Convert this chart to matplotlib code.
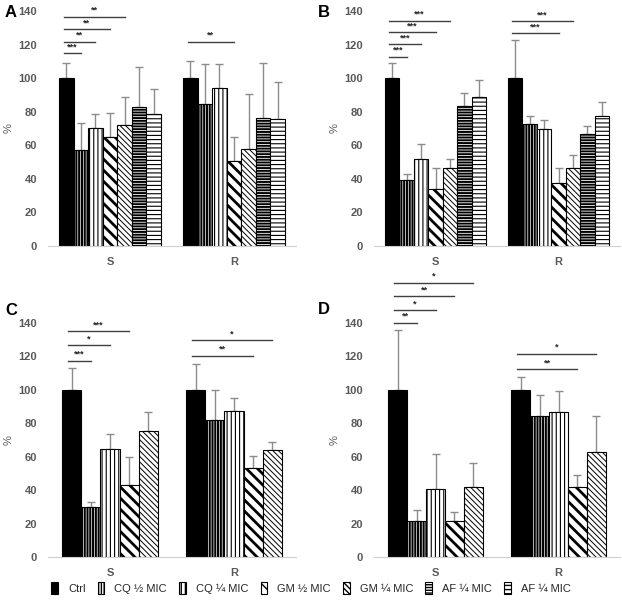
import numpy as np
import matplotlib.pyplot as plt
from matplotlib.patches import Patch

plt.rcParams['font.family'] = ['Liberation Sans', 'DejaVu Sans']

groups = ['S', 'R']
names = ['Ctrl', 'CQ ½ MIC', 'CQ ¼ MIC', 'GM ½ MIC', 'GM ¼ MIC', 'AF ¼ MIC', 'AF ¼ MIC']

# panel A
a_s = [100, 57.3, 70.2, 64.8, 72.0, 82.9, 78.7]
a_s_err = [9.3, 16.0, 8.5, 14.5, 17.0, 24.0, 14.7]
a_r = [100, 84.7, 94.0, 50.9, 57.9, 76.5, 75.9]
a_r_err = [10.5, 23.5, 14.7, 14.0, 32.4, 32.8, 21.9]
# panel B
b_s = [100, 39.2, 51.9, 34.2, 46.5, 83.5, 88.5]
b_s_err = [9.3, 3.4, 9.0, 12.3, 5.5, 7.5, 10.3]
b_r = [100, 72.6, 69.6, 37.6, 46.5, 66.6, 77.5]
b_r_err = [22.7, 5.0, 5.6, 9.0, 8.0, 5.0, 8.0]
# panel C
c_s = [100, 29.9, 64.8, 42.9, 75.2]
c_s_err = [13.0, 3.2, 8.6, 17.0, 11.8]
c_r = [100, 81.8, 87.4, 53.3, 64.2]
c_r_err = [15.7, 18.0, 8.0, 7.4, 4.4]
# panel D
d_s = [100, 21.4, 40.7, 21.4, 42.1]
d_s_err = [36.0, 6.8, 20.9, 5.4, 13.9]
d_r = [100, 84.4, 86.8, 42.1, 63.1]
d_r_err = [7.6, 12.3, 12.5, 7.0, 21.3]

# significance: (group, compared bar, height, stars)
a_sig = [(0, 1, 114.7, '***'), (0, 2, 121.7, '**'), (0, 3, 129.2, '**'), (0, 4, 136.6, '**'),
         (1, 3, 121.7, '**')]
b_sig = [(0, 1, 112.7, '***'), (0, 2, 120.1, '***'), (0, 3, 127.2, '***'), (0, 4, 134.2, '***'),
         (1, 3, 126.6, '***'), (1, 4, 133.8, '***')]
c_sig = [(0, 1, 117.3, '***'), (0, 2, 126.6, '*'), (0, 3, 135.0, '***'),
         (1, 3, 120.3, '**'), (1, 4, 129.6, '*')]
d_sig = [(0, 1, 140.2, '**'), (0, 2, 147.5, '*'), (0, 3, 156.0, '**'), (0, 4, 164.0, '*'),
         (1, 3, 112.2, '**'), (1, 4, 121.7, '*')]

hatches = [None, '||||||', '||||', '\\\\\\', '\\\\\\\\\\\\', '------', '----']
hlw = [1.0, 1.5, 0.8, 2.0, 0.7, 1.4, 0.8]
faces = ['black'] + ['white'] * 6

grey = '#595959'


def panel(ax, s, s_err, r, r_err, sig, gw):
    n = len(s)
    bw = gw / n
    for g, (vals, errs) in enumerate([(s, s_err), (r, r_err)]):
        xs = g - gw / 2 + bw * (np.arange(n) + 0.5)
        for i in range(n):
            b = ax.bar(xs[i], vals[i], width=bw, color=faces[i], edgecolor='black',
                       linewidth=0.8, hatch=hatches[i], zorder=2)
            for p in b:
                if hasattr(p, 'set_hatch_linewidth'):
                    p.set_hatch_linewidth(hlw[i])
        ax.errorbar(xs, vals, yerr=[np.zeros(n), errs], fmt='none', ecolor='#8c8c8c',
                    elinewidth=1, capsize=3, capthick=1, zorder=1)
    for g, j, h, lab in sig:
        x0 = g - gw / 2 + bw * 0.5 - bw * 0.2
        x1 = g - gw / 2 + bw * (j + 0.5)
        ax.plot([x0, x1], [h, h], color='#404040', lw=1, clip_on=False)
        ax.text((x0 + x1) / 2, h + 1.2, lab, ha='center', va='bottom', fontsize=6.5,
                fontweight='bold', color='#262626', clip_on=False)
    ax.set_xlim(-0.5, 1.5)
    ax.set_ylim(0, 140)
    ax.set_yticks(range(0, 141, 20))
    ax.set_xticks([0, 1])
    ax.set_xticklabels(groups)
    ax.tick_params(length=0, labelsize=8, labelcolor=grey, pad=8)
    for t in ax.get_xticklabels() + ax.get_yticklabels():
        t.set_fontweight('bold')
    for sp in ['top', 'right', 'left']:
        ax.spines[sp].set_visible(False)
    ax.spines['bottom'].set_color('#D0D0D0')
    ax.set_ylabel('%', color=grey, fontsize=8, labelpad=3)


fig = plt.figure(figsize=(6.22, 6.0), dpi=100)
ax_a = fig.add_axes([48 / 622, 1 - 246 / 600, 248 / 622, 235 / 600])
ax_b = fig.add_axes([374 / 622, 1 - 246 / 600, 246 / 622, 235 / 600])
ax_c = fig.add_axes([48 / 622, 1 - 557 / 600, 248 / 622, 234 / 600])
ax_d = fig.add_axes([374 / 622, 1 - 557 / 600, 246 / 622, 234 / 600])

panel(ax_a, a_s, a_s_err, a_r, a_r_err, a_sig, 0.82)
panel(ax_b, b_s, b_s_err, b_r, b_r_err, b_sig, 0.82)
panel(ax_c, c_s, c_s_err, c_r, c_r_err, c_sig, 0.77)
panel(ax_d, d_s, d_s_err, d_r, d_r_err, d_sig, 0.77)

for lab, (x, y) in zip('ABCD', [(5, 5), (318, 5), (5, 303), (318, 302)]):
    fig.text(x / 622, 1 - y / 600, lab, fontsize=12, fontweight='bold', va='top', ha='left')

handles = []
for i in range(7):
    h = Patch(facecolor=faces[i], edgecolor='black', hatch=hatches[i], linewidth=0.8)
    if hasattr(h, 'set_hatch_linewidth'):
        h.set_hatch_linewidth(hlw[i])
    handles.append(h)
leg = fig.legend(handles, names, loc='center', bbox_to_anchor=(0.5, 1 - 588 / 600), ncol=7,
                 frameon=False, fontsize=8, handlelength=0.6, handleheight=1.2,
                 handletextpad=0.9, columnspacing=1.1)
for t in leg.get_texts():
    t.set_color('#262626')

fig.savefig('out.png', dpi=100)
